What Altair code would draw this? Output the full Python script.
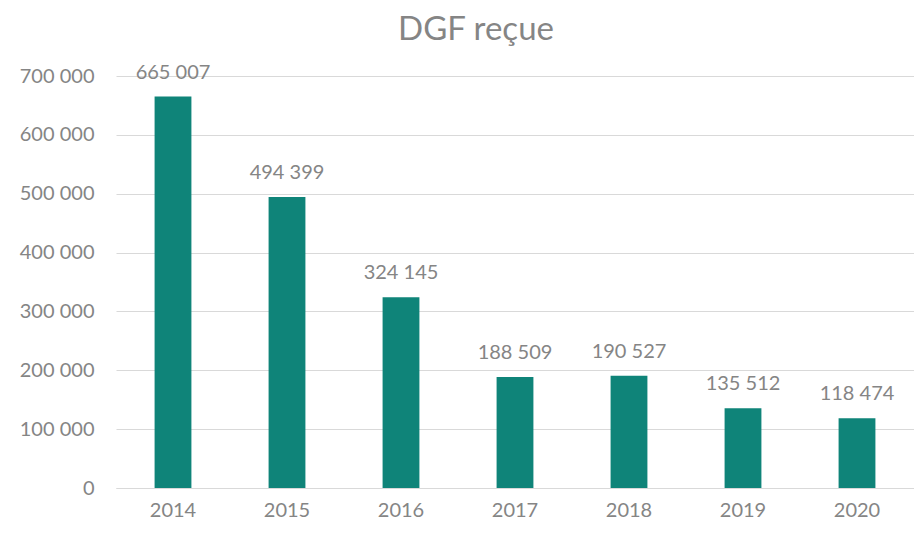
import altair as alt
import pandas as pd

years = ["2014", "2015", "2016", "2017", "2018", "2019", "2020"]
values = [665007, 494399, 324145, 188509, 190527, 135512, 118474]
labels = [f"{v:,}".replace(",", " ") for v in values]

df = pd.DataFrame({"year": years, "value": values, "label": labels})

FONT = "Lato"
GRAY = "#858585"
BAR = "#0F8479"

base = alt.Chart(df).encode(
    x=alt.X("year:N", sort=years,
            scale=alt.Scale(paddingInner=0.677, paddingOuter=0.3385),
            axis=alt.Axis(title=None, labelAngle=0, labelFont=FONT, labelFontSize=20,
                          labelColor=GRAY, labelPadding=12, ticks=False, domain=True,
                          domainColor="#D9D9D9", domainWidth=1, grid=False)),
)

bars = base.mark_bar(color=BAR).encode(
    y=alt.Y("value:Q", scale=alt.Scale(domain=[0, 700000], nice=False),
            axis=alt.Axis(title=None, values=[0, 100000, 200000, 300000, 400000, 500000, 600000, 700000],
                          labelExpr="replace(format(datum.value, ','), ',', ' ')",
                          labelFont=FONT, labelFontSize=20, labelColor=GRAY,
                          labelPadding=22, ticks=False, domain=False,
                          grid=True, gridColor="#D9D9D9", gridWidth=1))
)

text = base.mark_text(baseline="bottom", dy=-14, font=FONT, fontSize=20, color=GRAY).encode(
    y=alt.Y("value:Q"),
    text="label:N",
)

chart = (bars + text).properties(
    width=798, height=412,
    autosize=alt.AutoSizeParams(type="none"),
    padding={"left": 108, "top": 68, "right": 0, "bottom": 36},
    title=alt.TitleParams("DGF reçue", font=FONT, fontSize=33, fontWeight="normal",
                          color=GRAY, anchor="middle", dx=-39, offset=16),
).configure_view(stroke=None)

chart.save("out.html", embed_options={"renderer": "svg", "actions": False})
